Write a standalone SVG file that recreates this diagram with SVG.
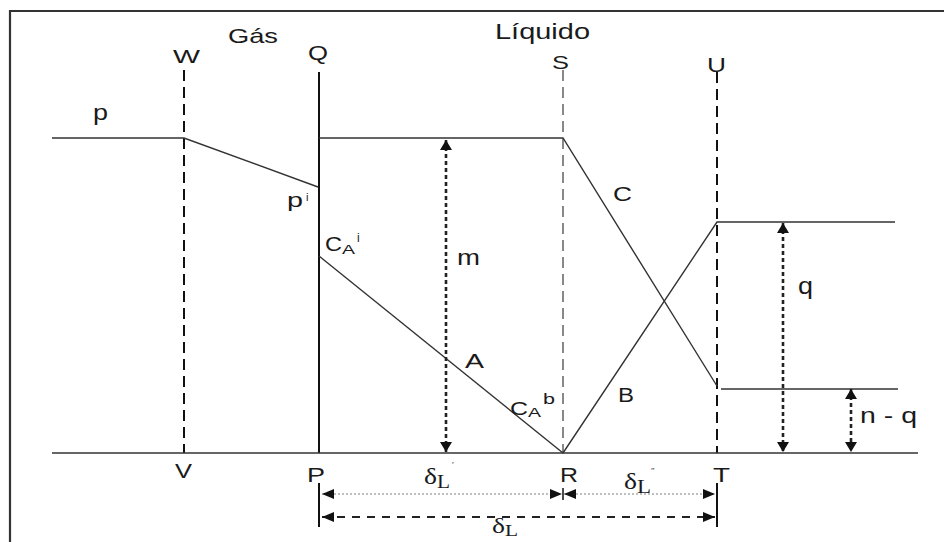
<svg xmlns="http://www.w3.org/2000/svg" width="944" height="542" viewBox="0 0 944 542">
<style>
.t{font-family:"Liberation Sans",Arial,sans-serif;fill:#1a1a1a}
.s{font-family:"Liberation Serif","Times New Roman",serif;fill:#1a1a1a}
.ln{stroke:#333;stroke-width:1.4;fill:none}
.dash{stroke:#111;stroke-width:2;stroke-dasharray:11 6;fill:none}
.gdash{stroke:#888;stroke-width:2;stroke-dasharray:11 6;fill:none}
.dot{stroke:#222;stroke-width:2.6;stroke-dasharray:4 3;fill:none}
</style>
<defs>
<marker id="ah" viewBox="0 0 10 12" refX="10" refY="6" markerWidth="10" markerHeight="12" markerUnits="userSpaceOnUse" orient="auto-start-reverse">
<path d="M0,0 L10,6 L0,12 z" fill="#111"/>
</marker>
<marker id="ahs" viewBox="0 0 12 10" refX="12" refY="5" markerWidth="12" markerHeight="10" markerUnits="userSpaceOnUse" orient="auto-start-reverse">
<path d="M0,0 L12,5 L0,10 z" fill="#111"/>
</marker>
</defs>
<rect width="944" height="542" fill="#fff"/>
<path id="frame" d="M10,542 V11 H944" stroke="#333" stroke-width="2.2" fill="none"/>

<g id="verticals">
<line class="dash" x1="184" y1="70" x2="184" y2="453"/>
<line x1="319" y1="72" x2="319" y2="453" stroke="#111" stroke-width="2"/>
<line class="gdash" x1="563" y1="70" x2="563" y2="453"/>
<line class="dash" x1="717" y1="72" x2="717" y2="453"/>
</g>

<g id="connectors">
<line class="ln" x1="52" y1="453" x2="918" y2="453"/>
<polyline class="ln" points="52,138 184,138 318,187"/>
<polyline class="ln" points="319,138 563,138 717,386"/>
<line class="ln" x1="721" y1="389" x2="898" y2="389"/>
<polyline class="ln" points="563,453 717,222 895,222"/>
<line class="ln" x1="319" y1="256" x2="563" y2="453"/>
<line class="dot" x1="446" y1="140" x2="446" y2="452" marker-start="url(#ah)" marker-end="url(#ah)"/>
<line class="dot" x1="783" y1="223" x2="783" y2="452" stroke-dasharray="5 4" marker-start="url(#ah)" marker-end="url(#ah)"/>
<line class="dot" x1="851" y1="389" x2="851" y2="452" marker-start="url(#ah)" marker-end="url(#ah)"/>
<line x1="322" y1="494" x2="562" y2="494" stroke="#aaa" stroke-width="1.3" stroke-dasharray="2 2" marker-start="url(#ahs)" marker-end="url(#ahs)"/>
<line x1="564" y1="494" x2="715" y2="494" stroke="#aaa" stroke-width="1.3" stroke-dasharray="2 2" marker-start="url(#ahs)" marker-end="url(#ahs)"/>
<line x1="322" y1="517" x2="715" y2="517" stroke="#222" stroke-width="1.8" stroke-dasharray="8 7" marker-start="url(#ahs)" marker-end="url(#ahs)"/>
<line x1="319" y1="483" x2="319" y2="527" stroke="#111" stroke-width="2"/>
<line x1="717" y1="483" x2="717" y2="527" stroke="#111" stroke-width="2"/>
<line x1="563" y1="488" x2="563" y2="500" stroke="#111" stroke-width="1.5"/>
</g>

<g id="labels">
<text class="t" x="228" y="43" font-size="21" textLength="50" lengthAdjust="spacingAndGlyphs">Gás</text>
<text class="t" x="495" y="39" font-size="22" textLength="95" lengthAdjust="spacingAndGlyphs">Líquido</text>
<text class="t" x="173" y="63" font-size="19" textLength="27" lengthAdjust="spacingAndGlyphs">W</text>
<text class="t" x="308" y="60" font-size="20" textLength="20" lengthAdjust="spacingAndGlyphs">Q</text>
<text class="t" x="552" y="69" font-size="19" textLength="17" lengthAdjust="spacingAndGlyphs">S</text>
<text class="t" x="707" y="72" font-size="21" textLength="19" lengthAdjust="spacingAndGlyphs">U</text>
<text class="t" x="93" y="120" font-size="22" textLength="15" lengthAdjust="spacingAndGlyphs">p</text>
<text class="t" x="287" y="207" font-size="20" textLength="16" lengthAdjust="spacingAndGlyphs">p</text>
<text class="t" x="306" y="201" font-size="11">i</text>
<text class="t" x="325" y="251" font-size="20" textLength="17" lengthAdjust="spacingAndGlyphs">C</text>
<text class="t" x="342" y="254" font-size="12" textLength="13" lengthAdjust="spacingAndGlyphs">A</text>
<text class="t" x="357" y="242" font-size="12">i</text>
<text class="t" x="457" y="265" font-size="22" textLength="23" lengthAdjust="spacingAndGlyphs">m</text>
<text class="t" x="465" y="368" font-size="20" textLength="19" lengthAdjust="spacingAndGlyphs">A</text>
<text class="t" x="510" y="415" font-size="18" textLength="18" lengthAdjust="spacingAndGlyphs">C</text>
<text class="t" x="528" y="417" font-size="12" textLength="13" lengthAdjust="spacingAndGlyphs">A</text>
<text class="t" x="543" y="404" font-size="14" textLength="12" lengthAdjust="spacingAndGlyphs">b</text>
<text class="t" x="613" y="201" font-size="21" textLength="19" lengthAdjust="spacingAndGlyphs">C</text>
<text class="t" x="618" y="402" font-size="20" textLength="16" lengthAdjust="spacingAndGlyphs">B</text>
<text class="t" x="798" y="294" font-size="23" textLength="15" lengthAdjust="spacingAndGlyphs">q</text>
<text class="t" x="860" y="423" font-size="22" textLength="57" lengthAdjust="spacingAndGlyphs">n - q</text>
<text class="t" x="175" y="478" font-size="20" textLength="17" lengthAdjust="spacingAndGlyphs">V</text>
<text class="t" x="307" y="482" font-size="20" textLength="18" lengthAdjust="spacingAndGlyphs">P</text>
<text class="t" x="560" y="482" font-size="20" textLength="18" lengthAdjust="spacingAndGlyphs">R</text>
<text class="t" x="713" y="482" font-size="20" textLength="17" lengthAdjust="spacingAndGlyphs">T</text>
<text class="s" x="424" y="484" font-size="23" textLength="13" lengthAdjust="spacingAndGlyphs">δ</text>
<text class="s" x="437" y="488" font-size="18" textLength="13" lengthAdjust="spacingAndGlyphs">L</text>
<text class="s" x="452" y="468" font-size="9" fill="#888">′</text>
<text class="s" x="624" y="489" font-size="23" textLength="13" lengthAdjust="spacingAndGlyphs">δ</text>
<text class="s" x="637" y="493" font-size="18" textLength="14" lengthAdjust="spacingAndGlyphs">L</text>
<text class="s" x="651" y="474" font-size="9" fill="#888">″</text>
<text class="s" x="492" y="533" font-size="22" textLength="13" lengthAdjust="spacingAndGlyphs">δ</text>
<text class="s" x="505" y="536" font-size="17" textLength="13" lengthAdjust="spacingAndGlyphs">L</text>
</g>
</svg>
